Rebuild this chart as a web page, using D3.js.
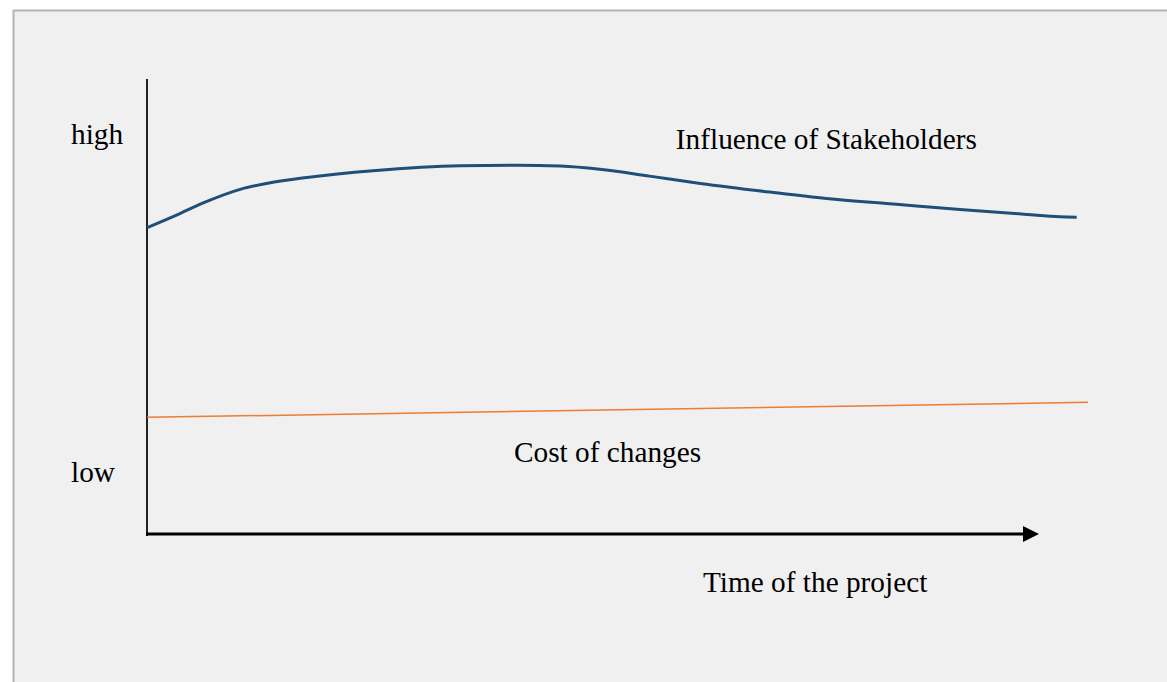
<!DOCTYPE html>
<html>
<head>
<meta charset="utf-8">
<script src="https://cdn.jsdelivr.net/npm/d3@7"></script>
<style>
  html, body { margin: 0; padding: 0; background: #fff; }
  svg { display: block; }
  text { font-family: "Liberation Serif", "Times New Roman", serif; fill: #000; }
</style>
</head>
<body>
<svg width="1167" height="682"></svg>
<script>
// time of the project (0..100) and the two series
var influenceTime = [0, 3.5, 6.3, 9.9, 12.7, 17, 24, 33.3, 39.3, 43.9, 48.1, 53.4, 58.8, 66.2, 72.2, 79.3, 86.4, 93.5, 97, 98.8];
var influenceValue = [67.4, 70.5, 73.1, 75.8, 77.1, 78.4, 79.9, 81, 81.1, 80.9, 80.2, 78.7, 77.1, 75.2, 73.8, 72.6, 71.4, 70.3, 69.8, 69.7];

var costTime = [0, 100];
var costValue = [25.8, 29.1];

var yTickLabels = ["low", "high"];
var yTickValues = [14, 88];

var seriesNames = ["Influence of Stakeholders", "Cost of changes"];
var xTitle = "Time of the project";

var svg = d3.select("svg");

// panel background with the grey border on top and left
svg.append("rect").attr("x", 13).attr("y", 10).attr("width", 1154).attr("height", 672).attr("fill", "#f0f0f0");
svg.append("line").attr("x1", 13.5).attr("x2", 1167).attr("y1", 10.5).attr("y2", 10.5).attr("stroke", "#b4b4b4").attr("stroke-width", 2);
svg.append("line").attr("x1", 13.5).attr("x2", 13.5).attr("y1", 10).attr("y2", 682).attr("stroke", "#b4b4b4").attr("stroke-width", 2);

var x = d3.scaleLinear().domain([0, 100]).range([147, 1088]);
var y = d3.scaleLinear().domain([0, 100]).range([535, 79]);

// axes
svg.append("line").attr("x1", 147).attr("x2", 147).attr("y1", y(100)).attr("y2", y(0) + 1)
  .attr("stroke", "#222").attr("stroke-width", 2);
svg.append("line").attr("x1", 146).attr("x2", 1025).attr("y1", 534).attr("y2", 534)
  .attr("stroke", "#000").attr("stroke-width", 3);
svg.append("path").attr("d", "M1023,526 L1039,534 L1023,542 Z").attr("fill", "#000");

// y tick labels
svg.selectAll(".ytick").data(yTickValues).enter().append("text")
  .attr("class", "ytick")
  .attr("x", 71)
  .attr("y", function(d) { return y(d) + 10.5; })
  .attr("font-size", 29.3)
  .text(function(d, i) { return yTickLabels[i]; });

// series lines
var line = d3.line()
  .x(function(d) { return x(d[0]); })
  .y(function(d) { return y(d[1]); })
  .curve(d3.curveMonotoneX);

svg.append("path")
  .datum(influenceTime.map(function(t, i) { return [t, influenceValue[i]]; }))
  .attr("d", line)
  .attr("fill", "none")
  .attr("stroke", "#1f4e79")
  .attr("stroke-width", 3);

svg.append("path")
  .datum(costTime.map(function(t, i) { return [t, costValue[i]]; }))
  .attr("d", line)
  .attr("fill", "none")
  .attr("stroke", "#ed7d31")
  .attr("stroke-width", 1.5);

// series labels
svg.append("text").attr("x", x(56.2)).attr("y", y(84.9) + 1.5).attr("font-size", 29.3).text(seriesNames[0]);
svg.append("text").attr("x", x(39)).attr("y", y(16.4) + 1.5).attr("font-size", 29.3).text(seriesNames[1]);

// axis title
svg.append("text").attr("x", 703).attr("y", 591.5).attr("font-size", 29.3).text(xTitle);
</script>
</body>
</html>
